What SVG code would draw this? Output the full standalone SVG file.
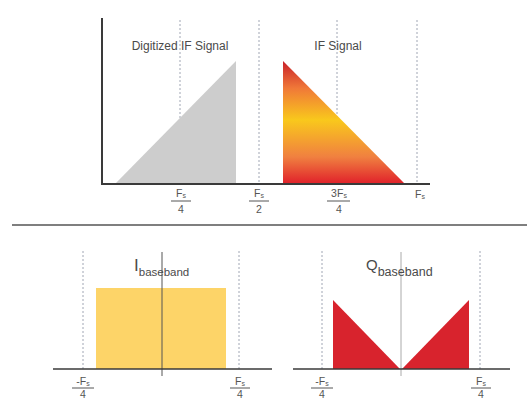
<svg xmlns="http://www.w3.org/2000/svg" width="527" height="400" viewBox="0 0 527 400">
<defs>
<style>
.axis{stroke:#3a3a3a;stroke-width:2;fill:none}
.axis2{stroke:#3a3a3a;stroke-width:1.6;fill:none}
.dash{stroke:#a0a6b4;stroke-width:1;stroke-dasharray:2,2;fill:none}
.frac{stroke:#555;stroke-width:1}
.lbl{font-family:"Liberation Sans",Arial,sans-serif;fill:#4a4a4a}
.tick{font-family:"Liberation Sans",Arial,sans-serif;fill:#555;font-size:10.5px;text-anchor:middle}
.sub{font-size:7px}
</style>
<linearGradient id="ifgrad" x1="0" y1="0" x2="0" y2="1">
<stop offset="0" stop-color="#c8202a"/>
<stop offset="0.22" stop-color="#f07838"/>
<stop offset="0.48" stop-color="#f9c81c"/>
<stop offset="0.78" stop-color="#f08040"/>
<stop offset="1" stop-color="#e0202a"/>
</linearGradient>
</defs>
<rect width="527" height="400" fill="#ffffff"/>

<g id="top-panel">
<g id="top-grid">
<line class="dash" x1="180" y1="20" x2="180" y2="184"/>
<line class="dash" x1="259" y1="20" x2="259" y2="184"/>
<line class="dash" x1="337" y1="20" x2="337" y2="184"/>
<line class="dash" x1="417" y1="20" x2="417" y2="184"/>
</g>
<g id="digitized-if">
<polygon points="115,184 236,184 236,61" fill="#cdcdcd"/>
<text class="lbl" x="180" y="50" font-size="12" text-anchor="middle">Digitized IF Signal</text>
</g>
<g id="if-signal">
<polygon points="283,61 283,184 405,184" fill="url(#ifgrad)"/>
<text class="lbl" x="338" y="50" font-size="12" text-anchor="middle">IF Signal</text>
</g>
<g id="top-axes">
<line class="axis" x1="102" y1="18" x2="102" y2="184"/>
<line class="axis" x1="101" y1="184" x2="430" y2="184"/>
</g>
<g id="top-ticks">
<text class="tick" x="181" y="197">F<tspan class="sub" dy="1">s</tspan></text>
<line class="frac" x1="171" y1="201" x2="191" y2="201"/>
<text class="tick" x="181" y="213">4</text>
<text class="tick" x="259" y="197">F<tspan class="sub" dy="1">s</tspan></text>
<line class="frac" x1="249" y1="201" x2="269" y2="201"/>
<text class="tick" x="259" y="213">2</text>
<text class="tick" x="339" y="197">3F<tspan class="sub" dy="1">s</tspan></text>
<line class="frac" x1="327" y1="201" x2="350" y2="201"/>
<text class="tick" x="339" y="213">4</text>
<text class="tick" x="420" y="198">F<tspan class="sub" dy="1">s</tspan></text>
</g>
</g>

<line id="separator" x1="12" y1="225" x2="527" y2="225" stroke="#555" stroke-width="1.5"/>

<g id="i-baseband">
<line class="dash" x1="83" y1="251" x2="83" y2="370"/>
<line class="dash" x1="239" y1="251" x2="239" y2="370"/>
<rect x="96" y="288" width="130" height="81" fill="#fdd468"/>
<line x1="162" y1="252" x2="162" y2="376" stroke="#555" stroke-width="1"/>
<line class="axis2" x1="53" y1="369" x2="272" y2="369"/>
<text class="lbl" x="134" y="271" font-size="17">I<tspan font-size="11.5" dy="5">baseband</tspan></text>
<text class="tick" x="83" y="385">-F<tspan class="sub" dy="1">s</tspan></text>
<line class="frac" x1="72" y1="388" x2="94" y2="388"/>
<text class="tick" x="83" y="398">4</text>
<text class="tick" x="240" y="385">F<tspan class="sub" dy="1">s</tspan></text>
<line class="frac" x1="230" y1="388" x2="250" y2="388"/>
<text class="tick" x="240" y="398">4</text>
</g>

<g id="q-baseband">
<line class="dash" x1="322" y1="251" x2="322" y2="370"/>
<line class="dash" x1="480" y1="251" x2="480" y2="370"/>
<polygon points="333,300 333,369 400,369" fill="#d8232d"/>
<polygon points="402,369 469,369 469,300" fill="#d8232d"/>
<line x1="401" y1="252" x2="401" y2="376" stroke="#aaa" stroke-width="1"/>
<line class="axis2" x1="293" y1="369" x2="510" y2="369"/>
<text class="lbl" x="366" y="270" font-size="15">Q<tspan font-size="12.5" dy="6">baseband</tspan></text>
<text class="tick" x="322" y="385">-F<tspan class="sub" dy="1">s</tspan></text>
<line class="frac" x1="311" y1="388" x2="333" y2="388"/>
<text class="tick" x="322" y="398">4</text>
<text class="tick" x="481" y="385">F<tspan class="sub" dy="1">s</tspan></text>
<line class="frac" x1="471" y1="388" x2="491" y2="388"/>
<text class="tick" x="481" y="398">4</text>
</g>
</svg>
